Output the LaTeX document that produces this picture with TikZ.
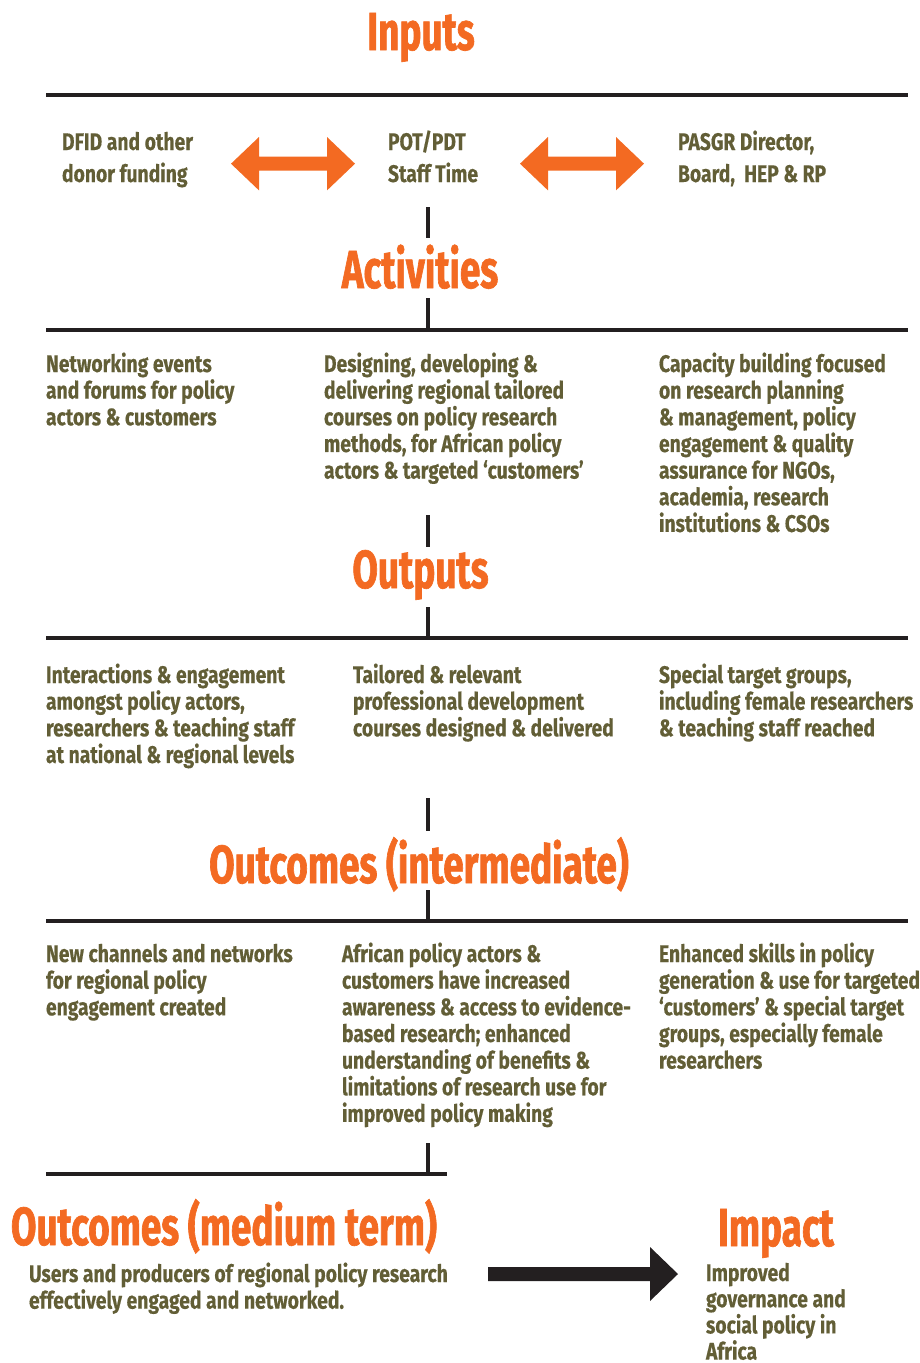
\documentclass[tikz,border=0pt]{standalone}
\usepackage{fontspec}
\setmainfont{Fira Sans}
\newfontfamily\bodyfam[FakeStretch=0.805,FakeBold=0.4]{Fira Sans}
\newfontfamily\titlefam[FakeStretch=0.69,FakeBold=1.2]{Fira Sans}
\definecolor{orng}{RGB}{243,106,34}
\definecolor{olive}{RGB}{98,94,54}
\definecolor{ink}{RGB}{35,31,32}
\newcommand{\bodytxt}[2][330pt]{\parbox[t]{#1}{\raggedright\bodyfam\bfseries\fontsize{24}{26.65}\selectfont #2}}
\newcommand{\imptxt}[1]{\parbox[t]{200pt}{\raggedright\bodyfam\bfseries\fontsize{24}{26.2}\selectfont #1}}
\newcommand{\inptxt}[1]{\parbox[t]{330pt}{\raggedright\bodyfam\bfseries\fontsize{24}{32}\selectfont #1}}
\tikzset{
  body/.style={anchor=base west, inner sep=0pt, outer sep=0pt, text=olive},
  ttl/.style={anchor=base, inner sep=0pt, outer sep=0pt, text=orng, font=\titlefam\bfseries\fontsize{53.5}{60}\selectfont},
  hrule/.style={draw=ink, line width=4.7pt},
  vrule/.style={draw=ink, line width=4pt},
  oarrow/.style={fill=orng},
  karrow/.style={fill=ink}
}
\begin{document}
\begin{tikzpicture}[x=1pt,y=-1pt]
\useasboundingbox (0,0) rectangle (919,1363);

% ---------- Inputs ----------
\node[ttl] (tIn) at (421,50) {Inputs};
\coordinate (h1l) at (46,95); \coordinate (h1r) at (908,95);
\draw[hrule] (h1l) -- (h1r);
\node[body] (in1) at (62,150) {\inptxt{DFID and other\\donor funding}};
\node[body] (in2) at (388,150) {\inptxt{POT/PDT\\Staff Time}};
\node[body] (in3) at (678,150) {\inptxt{PASGR Director,\\Board,\ \ HEP \& RP}};
% orange double arrows
\fill[oarrow] (231,163.7) -- (259,137) -- (259,156.7) -- (327,156.7) -- (327,137) -- (355,163.7)
  -- (327,190.4) -- (327,170.7) -- (259,170.7) -- (259,190.4) -- cycle;
\fill[oarrow] (520,163.7) -- (548,137) -- (548,156.7) -- (616,156.7) -- (616,137) -- (644,163.7)
  -- (616,190.4) -- (616,170.7) -- (548,170.7) -- (548,190.4) -- cycle;

% ---------- Activities ----------
\coordinate (v1a) at (428,207); \coordinate (v1b) at (428,238);
\draw[vrule] (v1a) -- (v1b);
\node[ttl] (tAct) at (420,288) {Activities};
\coordinate (v2a) at (428,298); \coordinate (v2b) at (428,330);
\draw[vrule] (v2a) -- (v2b);
\coordinate (h2l) at (46,330); \coordinate (h2r) at (908,330);
\draw[hrule] (h2l) -- (h2r);
\node[body] (a1) at (46,372) {\bodytxt{Networking events\\and forums for policy\\actors \& customers}};
\node[body] (a2) at (324,372) {\bodytxt{Designing, developing \&\\delivering regional tailored\\courses on policy research\\methods, for African policy\\actors \& targeted ‘customers’}};
\node[body] (a3) at (659,372) {\bodytxt{Capacity building focused\\on research planning\\\& management, policy\\engagement \& quality\\assurance for NGOs,\\academia, research\\institutions \& CSOs}};

% ---------- Outputs ----------
\coordinate (v3a) at (428,515); \coordinate (v3b) at (428,547);
\draw[vrule] (v3a) -- (v3b);
\node[ttl] (tOut) at (420.5,588) {Outputs};
\coordinate (v4a) at (428,607); \coordinate (v4b) at (428,638);
\draw[vrule] (v4a) -- (v4b);
\coordinate (h3l) at (46,638); \coordinate (h3r) at (908,638);
\draw[hrule] (h3l) -- (h3r);
\node[body] (o1) at (46,683) {\bodytxt{Interactions \& engagement\\amongst policy actors,\\researchers \& teaching staff\\at national \& regional levels}};
\node[body] (o2) at (353,683) {\bodytxt{Tailored \& relevant\\professional development\\courses designed \& delivered}};
\node[body] (o3) at (659,683) {\bodytxt{Special target groups,\\including female researchers\\\& teaching staff reached}};

% ---------- Outcomes (intermediate) ----------
\coordinate (v5a) at (428,798); \coordinate (v5b) at (428,831);
\draw[vrule] (v5a) -- (v5b);
\node[ttl] (tOi) at (419,883) {Outcomes (intermediate)};
\coordinate (v6a) at (428,890); \coordinate (v6b) at (428,921);
\draw[vrule] (v6a) -- (v6b);
\coordinate (h4l) at (46,921); \coordinate (h4r) at (908,921);
\draw[hrule] (h4l) -- (h4r);
\node[body] (i1) at (46,962) {\bodytxt{New channels and networks\\for regional policy\\engagement created}};
\node[body] (i2) at (342,962) {\bodytxt{African policy actors \&\\customers have increased\\awareness \& access to evidence-\\based research; enhanced\\understanding of benefits \&\\limitations of research use for\\improved policy making}};
\node[body] (i3) at (659,962) {\bodytxt{Enhanced skills in policy\\generation \& use for targeted\\‘customers’ \& special target\\groups, especially female\\researchers}};

% ---------- Outcomes (medium term) ----------
\coordinate (v7a) at (428,1143); \coordinate (v7b) at (428,1174);
\draw[vrule] (v7a) -- (v7b);
\coordinate (h5l) at (46,1174); \coordinate (h5r) at (447,1174);
\draw[hrule] (h5l) -- (h5r);
\node[ttl] (tOm) at (224,1245) {Outcomes (medium term)};
\node[body] (m1) at (29,1282) {\bodytxt[470pt]{Users and producers of regional policy research\\effectively engaged and networked.}};

% ---------- Impact ----------
\node[ttl] (tImp) at (776,1246) {Impact};
\node[body] (p1) at (706,1281) {\imptxt{Improved\\governance and\\social policy in\\Africa}};
\fill[karrow] (488,1267) -- (650,1267) -- (650,1247) -- (678,1274) -- (650,1301) -- (650,1281) -- (488,1281) -- cycle;
\end{tikzpicture}
\end{document}
